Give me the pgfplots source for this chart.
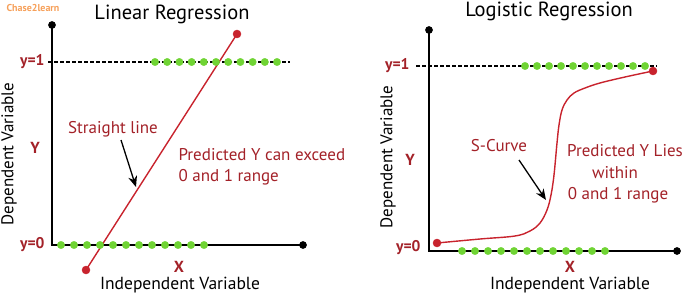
\documentclass[border=0pt]{standalone}
\usepackage{pgfplots}
\pgfplotsset{compat=1.18}
\usepackage{fontspec}
\setmainfont{PT Sans}
\usetikzlibrary{arrows.meta}
\definecolor{textred}{RGB}{163,33,40}
\definecolor{linered}{RGB}{200,35,45}
\definecolor{dotgreen}{RGB}{112,212,52}
\definecolor{wmorange}{RGB}{246,160,90}
\newcommand{\fs}[1]{\fontsize{#1}{#1}\selectfont}
\begin{document}
\begin{tikzpicture}
\begin{axis}[width=685pt,height=294pt,scale only axis,
  xmin=0,xmax=685,ymin=0,ymax=294,y dir=reverse,
  hide axis,clip=false]
% ---------- Left panel: Linear Regression ----------
\addplot[black,line width=1.4pt] coordinates {(52,25) (52,245) (303,245)};
\addplot[black,line width=1.2pt,dash pattern=on 3.5pt off 2.5pt] coordinates {(48,62) (290,62)};
\addplot[only marks,mark=*,mark size=3.6pt,black] coordinates {(52,25) (303,245)};
\addplot[only marks,mark=*,mark size=3.7pt,color=dotgreen] coordinates {
 (155,62) (167.2,62) (179.4,62) (191.6,62) (203.8,62) (216,62)
 (228.2,62) (240.4,62) (252.6,62) (264.8,62) (277,62)};
\addplot[only marks,mark=*,mark size=3.7pt,color=dotgreen] coordinates {
 (61,245) (74,245) (87,245) (100,245) (113,245) (126,245)
 (139,245) (152,245) (165,245) (178,245) (191,245) (204,245)};
\addplot[linered,line width=1.4pt] coordinates {(86,270) (237,34)};
\addplot[only marks,mark=*,mark size=4pt,color=linered] coordinates {(86,270) (237,34)};
\addplot[black,line width=1.3pt,-{Stealth[length=11pt,width=9pt]}] coordinates {(121,140) (136,187)};
\node[font=\fs{20.5}] at (axis cs:172,14) {Linear Regression};
\node[font=\fs{17},text=textred] at (axis cs:113,129) {Straight line};
\node[font=\fs{17},text=textred,anchor=west] at (axis cs:175,155) {Predicted Y can exceed};
\node[font=\fs{17},text=textred,anchor=west] at (axis cs:175,177) {0 and 1 range};
\node[font=\bfseries\fs{15.5},text=textred,anchor=east] at (axis cs:48,62) {y=1};
\node[font=\bfseries\fs{15.5},text=textred,anchor=east] at (axis cs:48,245) {y=0};
\node[font=\bfseries\fs{16},text=textred] at (axis cs:35,148) {Y};
\node[font=\bfseries\fs{16},text=textred] at (axis cs:179,267) {X};
\node[font=\fs{17.5}] at (axis cs:180,285) {Independent Variable};
\node[font=\fs{17},rotate=90] at (axis cs:9,154) {Dependent Variable};
\node[font=\bfseries\fs{10},text=wmorange,anchor=west] at (axis cs:3,8) {Chase2learn};
% ---------- Right panel: Logistic Regression ----------
\addplot[black,line width=1.4pt] coordinates {(429,30) (429,251) (677,251)};
\addplot[black,line width=1.2pt,dash pattern=on 3.5pt off 2.5pt] coordinates {(416,66) (657,66)};
\addplot[only marks,mark=*,mark size=3.6pt,black] coordinates {(429,30) (677,251)};
\addplot[only marks,mark=*,mark size=3.7pt,color=dotgreen] coordinates {
 (525,66) (537,66) (549,66) (561,66) (573,66) (585,66)
 (597,66) (609,66) (621,66) (633,66) (645,66)};
\addplot[only marks,mark=*,mark size=3.7pt,color=dotgreen] coordinates {
 (462,251) (475,251) (488,251) (501,251) (514,251) (527,251)
 (540,251) (553,251) (566,251) (579,251) (592,251) (605,251)};
\addplot[linered,line width=1.4pt,smooth,tension=0.6] coordinates {
 (437,243) (480,239) (515,236) (530,231) (540,223) (547,210) (551,195)
 (554,175) (557,143) (559,125) (562,110) (567,100) (574,93) (585,88)
 (600,83) (625,77) (653,71)};
\addplot[only marks,mark=*,mark size=4pt,color=linered] coordinates {(437,243) (653,71)};
\addplot[black,line width=1.3pt,-{Stealth[length=11pt,width=9pt]}] coordinates {(519,160) (546,200)};
\node[font=\fs{20.5}] at (axis cs:549,11) {Logistic Regression};
\node[font=\fs{17},text=textred] at (axis cs:499,146) {S-Curve};
\node[font=\fs{17},text=textred] at (axis cs:625,151) {Predicted Y Lies};
\node[font=\fs{17},text=textred] at (axis cs:615,173) {within};
\node[font=\fs{17},text=textred] at (axis cs:618,195) {0 and 1 range};
\node[font=\bfseries\fs{15.5},text=textred,anchor=east] at (axis cs:413,66) {y=1};
\node[font=\bfseries\fs{15.5},text=textred,anchor=east] at (axis cs:424,248) {y=0};
\node[font=\bfseries\fs{16},text=textred] at (axis cs:410,160) {Y};
\node[font=\bfseries\fs{16},text=textred] at (axis cs:570,267) {X};
\node[font=\fs{17.5}] at (axis cs:570,285) {Independent Variable};
\node[font=\fs{17},rotate=90] at (axis cs:388,157) {Dependent Variable};
\end{axis}
\pgfresetboundingbox
\path (0,0) rectangle (685pt,294pt);
\end{tikzpicture}
\end{document}
